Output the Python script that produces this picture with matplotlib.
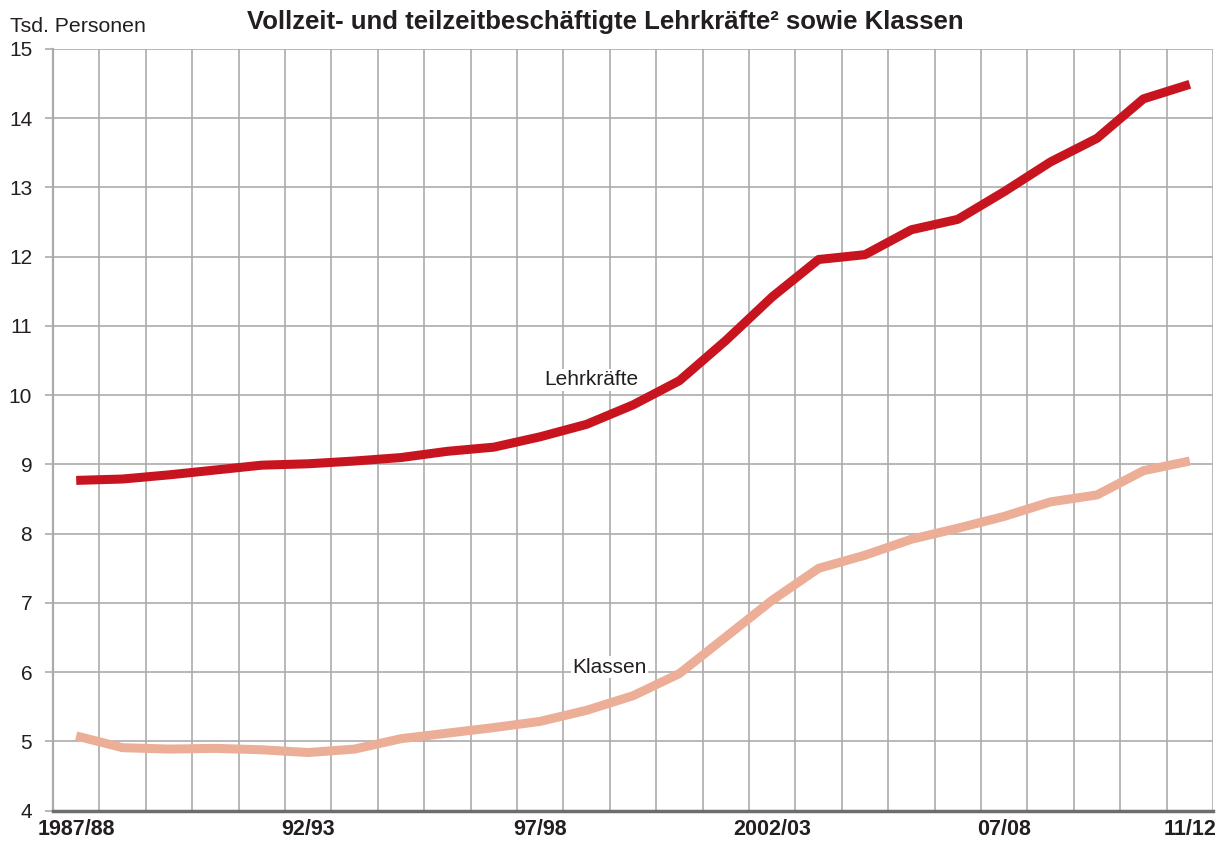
import matplotlib
matplotlib.use("Agg")
import matplotlib.pyplot as plt
import numpy as np

plt.rcParams['font.family'] = ['Liberation Sans', 'DejaVu Sans']

years = ["1987/88", "88/89", "89/90", "90/91", "91/92", "92/93", "93/94", "94/95",
         "95/96", "96/97", "97/98", "98/99", "99/2000", "2000/01", "01/02", "2002/03",
         "03/04", "04/05", "05/06", "06/07", "07/08", "08/09", "09/10", "10/11", "11/12"]
tick_labels = ["1987/88", "92/93", "97/98", "2002/03", "07/08", "11/12"]
lehrkraefte = [8.77, 8.79, 8.85, 8.92, 8.99, 9.01, 9.05, 9.10, 9.19, 9.25, 9.40, 9.58,
               9.86, 10.21, 10.79, 11.42, 11.96, 12.03, 12.39, 12.54, 12.94, 13.37,
               13.71, 14.28, 14.49]
klassen = [5.08, 4.91, 4.89, 4.90, 4.88, 4.84, 4.89, 5.04, 5.12, 5.20, 5.29, 5.45,
           5.66, 5.98, 6.51, 7.04, 7.50, 7.69, 7.92, 8.08, 8.25, 8.46, 8.56, 8.91, 9.05]

fig = plt.figure(figsize=(12.31, 8.42), dpi=100)
ax = fig.add_axes([53/1231, 1-810.7/842, (1213-53)/1231, (810.7-49)/842])

x = np.arange(len(years))
grid_c = '#ababab'
text_c = '#231f20'

ax.set_xlim(-0.5, len(years)-0.5)
ax.set_ylim(4, 15)

# gridlines
ax.set_yticks(np.arange(4, 16, 1))
ax.set_xticks(np.arange(-0.5, len(years), 1), minor=True)
ax.grid(True, axis='y', which='major', color=grid_c, linewidth=1.2, zorder=0)
ax.grid(True, axis='x', which='minor', color=grid_c, linewidth=1.2, zorder=0)

tick_pos = [years.index(t) for t in tick_labels]
ax.set_xticks(tick_pos)
ax.set_xticklabels(tick_labels, fontsize=15.5, fontweight='bold', color=text_c)
ax.tick_params(axis='x', which='both', length=0, pad=6)
ax.tick_params(axis='y', length=6, width=1.2, color=grid_c, labelsize=15,
               labelcolor=text_c, pad=9)

for s in ['top', 'right']:
    ax.spines[s].set_visible(False)
ax.spines['left'].set_color(grid_c)
ax.spines['left'].set_linewidth(1.6)
ax.spines['bottom'].set_color('#6d6d6d')
ax.spines['bottom'].set_linewidth(2.5)

ax.plot(x, lehrkraefte, color='#c8141e', linewidth=6.5, solid_capstyle='butt', zorder=3)
ax.plot(x, klassen, color='#ecae97', linewidth=6.5, solid_capstyle='butt', zorder=3)

ax.text(11.1, 10.22, "Lehrkräfte", fontsize=15, ha='center', va='center',
        color=text_c, zorder=4,
        bbox=dict(facecolor='white', edgecolor='none', pad=1))
ax.text(11.5, 6.07, "Klassen", fontsize=15, ha='center', va='center',
        color=text_c, zorder=4,
        bbox=dict(facecolor='white', edgecolor='none', pad=1))

fig.text(10/1231, 1-26/842, "Tsd. Personen", fontsize=15.3, ha='left', va='center',
         color=text_c)
fig.text(605/1231, 1-22/842, "Vollzeit- und teilzeitbeschäftigte Lehrkräfte² sowie Klassen",
         fontsize=18.5, fontweight='bold', ha='center', va='center', color=text_c)

fig.savefig("out.png", dpi=100, facecolor='white')
